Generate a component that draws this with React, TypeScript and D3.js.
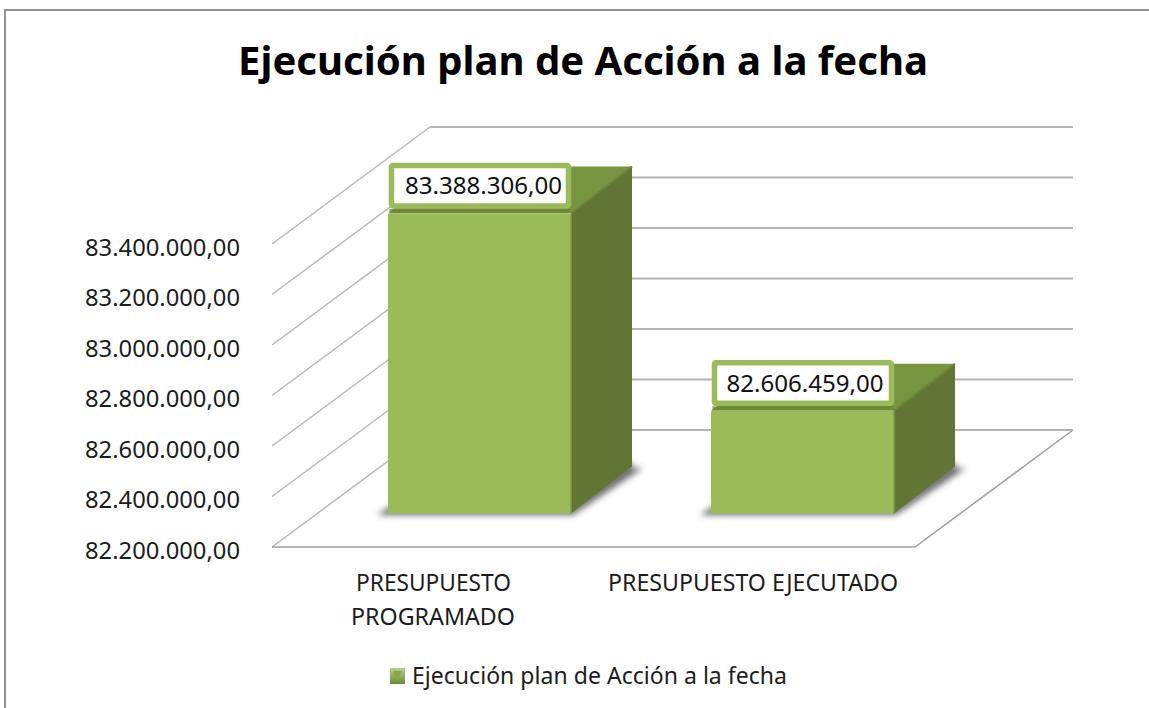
import React from "react";
import * as d3 from "d3";

const categories = ["PRESUPUESTO PROGRAMADO", "PRESUPUESTO EJECUTADO"];
const values = [83388306, 82606459];
const valueLabels = ["83.388.306,00", "82.606.459,00"];
const tickValues = [82200000, 82400000, 82600000, 82800000, 83000000, 83200000, 83400000];
const tickLabels = ["82.200.000,00", "82.400.000,00", "82.600.000,00", "82.800.000,00", "83.000.000,00", "83.200.000,00", "83.400.000,00"];
const title = "Ejecución plan de Acción a la fecha";

const FONT = "'Noto Sans', 'Open Sans', sans-serif";
const INK = "#1c1c1c";

export default function App() {
  const yBack = d3.scaleLinear().domain([82200000, 83400000]).range([430, 127]);
  const wallDx = 158, wallDy = 117;
  const backLeft = 430, backRight = 1073;
  const barBase = 513.5;
  const barHeight = d3.scaleLinear().domain([82200000, 83400000]).range([0, 303]);
  const band = d3.scaleBand().domain(categories).range([318, 964]).paddingInner(0.4334).paddingOuter(0.2167);
  const barW = band.bandwidth();
  const ddx = 61, ddy = 47;

  return (
    <svg width={1149} height={708} style={{ position: "absolute", left: 0, top: 0, background: "#fff" }}>
      <defs>
        <filter id="blur" x="-30%" y="-30%" width="160%" height="160%">
          <feGaussianBlur stdDeviation="3" />
        </filter>
        <filter id="soft" x="-5%" y="-50%" width="110%" height="200%">
          <feGaussianBlur stdDeviation="0.6" />
        </filter>
        <linearGradient id="lg" x1="0" y1="0" x2="0" y2="1">
          <stop offset="0" stopColor="#b9cf86" />
          <stop offset="1" stopColor="#6f8a3a" />
        </linearGradient>
      </defs>
      <path d="M5,708 V10 H1149" fill="none" stroke="#8f8f8f" strokeWidth={2} />
      <text x={583} y={75} textAnchor="middle" fontFamily={FONT} fontWeight={700} fontSize={39} fill="#000"
        textLength={690} lengthAdjust="spacingAndGlyphs">{title}</text>

      {/* gridlines */}
      {tickValues.map((t) => {
        const y = yBack(t);
        return (
          <g key={t} fill="none">
            {t !== tickValues[0] && (
              <line x1={backLeft} x2={backRight} y1={y} y2={y} stroke="#b4b4b4" strokeWidth={1.8} />
            )}
            <line x1={backLeft} y1={y} x2={backLeft - wallDx} y2={y + wallDy} stroke="#b8b8b8" strokeWidth={1.5} />
          </g>
        );
      })}
      {/* floor */}
      <path d={`M${backLeft - wallDx},${yBack(tickValues[0]) + wallDy} H${backRight - wallDx} L${backRight},${yBack(tickValues[0])}`}
        fill="none" stroke="#a0a0a0" strokeWidth={1.5} />
      <line x1={backLeft} x2={backRight} y1={yBack(tickValues[0])} y2={yBack(tickValues[0])} stroke="#b4b4b4" strokeWidth={1.8} />

      {/* tick labels */}
      {tickValues.map((t, i) => (
        <text key={t} x={240} y={yBack(t) + wallDy + 11.5} textAnchor="end" fontFamily={FONT} fontSize={23.5} fill={INK}
          textLength={155} lengthAdjust="spacingAndGlyphs">{tickLabels[i]}</text>
      ))}

      {/* bars */}
      {values.map((v, i) => {
        const x = band(categories[i]) as number;
        const yTop = barBase - barHeight(v);
        const xr = x + barW;
        const side = `M${xr},${barBase} L${xr + ddx},${barBase - ddy} V${yTop - ddy} L${xr},${yTop} Z`;
        const top = `M${x},${yTop} L${x + ddx},${yTop - ddy} H${xr + ddx} L${xr},${yTop} Z`;
        const shadow = `M${x - 11},${barBase + 1.5} H${xr + 2} L${xr + ddx + 11},${barBase - ddy + 1.5} H${xr + ddx} V${barBase - ddy - 6} L${xr},${barBase - 6} H${x} Z`;
        return (
          <g key={categories[i]}>
            <path d={shadow} fill="#4a4a4a" opacity={0.8} filter="url(#blur)" />
            <path d={side} fill="#617535" />
            <path d={top} fill="#779440" />
            <line x1={xr} y1={yTop} x2={xr + ddx} y2={yTop - ddy} stroke="#6c8538" strokeWidth={2} />
            <rect x={x} y={yTop} width={barW} height={barBase - yTop} rx={1.5} fill="#9bbb59" />
            <line x1={xr} y1={yTop} x2={xr} y2={barBase} stroke="#7f9d45" strokeWidth={1.5} />
          </g>
        );
      })}

      {/* data labels */}
      {values.map((v, i) => {
        const x = band(categories[i]) as number;
        const yTop = barBase - barHeight(v);
        const bx = x + 3.5, by = yTop - 48, bw = 177, bh = 40.5;
        return (
          <g key={valueLabels[i]}>
            <rect x={bx - 2} y={by + bh + 3} width={bw + 4} height={3.5} fill="#6c8538" opacity={0.8} filter="url(#soft)" />
            <rect x={bx} y={by} width={bw} height={bh} fill="#fff" stroke="#9bbb59" strokeWidth={5.5} rx={1.5} />
            <text x={bx + bw / 2 + (i === 0 ? 3.5 : 2)} y={by + 29} textAnchor="middle" fontFamily={FONT} fontSize={23.5} fill="#111"
              textLength={157} lengthAdjust="spacingAndGlyphs">{valueLabels[i]}</text>
          </g>
        );
      })}

      {/* category labels */}
      <text x={433.5} y={591} textAnchor="middle" fontFamily={FONT} fontSize={23} fill={INK} textLength={155} lengthAdjust="spacingAndGlyphs">PRESUPUESTO</text>
      <text x={433} y={625} textAnchor="middle" fontFamily={FONT} fontSize={23} fill={INK} textLength={164} lengthAdjust="spacingAndGlyphs">PROGRAMADO</text>
      <text x={753} y={591} textAnchor="middle" fontFamily={FONT} fontSize={23} fill={INK} textLength={290} lengthAdjust="spacingAndGlyphs">{categories[1]}</text>

      {/* legend */}
      <rect x={390} y={668} width={15} height={16} fill="url(#lg)" />
      <path d="M393,671 H402 L397.5,681 Z" fill="#8aa84a" />
      <text x={412} y={684} fontFamily={FONT} fontSize={23} fill={INK} textLength={375} lengthAdjust="spacing">{title}</text>
    </svg>
  );
}
